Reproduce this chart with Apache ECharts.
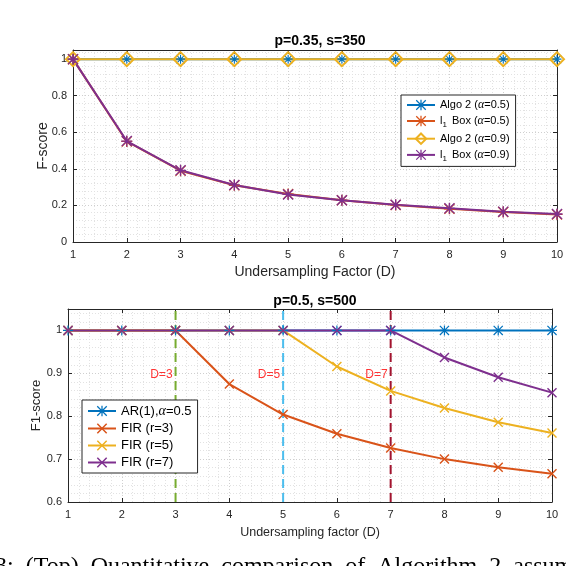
<!DOCTYPE html>
<html>
<head>
<meta charset="utf-8">
<script src="https://cdn.jsdelivr.net/npm/echarts@6/dist/echarts.min.js"></script>
<style>html,body{margin:0;padding:0;background:#fff}#c{width:566px;height:566px}</style>
</head>
<body>
<div id="c"></div>
<script>
// ---------- data ----------
var xD = [1, 2, 3, 4, 5, 6, 7, 8, 9, 10];
// top panel: p=0.35, s=350
var topTitle = 'p=0.35, s=350';
var topNames = ['Algo 2 (α=0.5)', 'l1 Box (α=0.5)', 'Algo 2 (α=0.9)', 'l1 Box (α=0.9)'];
var algo2a05 = [1, 1, 1, 1, 1, 1, 1, 1, 1, 1];
var l1Boxa05 = [1, 0.550, 0.390, 0.310, 0.262, 0.228, 0.203, 0.182, 0.164, 0.151];
var algo2a09 = [1, 1, 1, 1, 1, 1, 1, 1, 1, 1];
var l1Boxa09 = [1, 0.552, 0.392, 0.312, 0.260, 0.228, 0.204, 0.184, 0.166, 0.153];
// bottom panel: p=0.5, s=500
var botTitle = 'p=0.5, s=500';
var botNames = ['AR(1),α=0.5', 'FIR (r=3)', 'FIR (r=5)', 'FIR (r=7)'];
var ar1 = [1, 1, 1, 1, 1, 1, 1, 1, 1, 1];
var fir3 = [1, 1, 1, 0.875, 0.804, 0.759, 0.726, 0.700, 0.681, 0.666];
var fir5 = [1, 1, 1, 1, 1, 0.916, 0.859, 0.819, 0.786, 0.761];
var fir7 = [1, 1, 1, 1, 1, 1, 1, 0.937, 0.891, 0.855];
var thresholds = [3, 5, 7];
var thresholdLabels = ['D=3', 'D=5', 'D=7'];
var thresholdLabelLevel = 0.897;
var captionWords = ['3:', '(Top)', 'Quantitative', 'comparison', 'of', 'Algorithm', '2', 'assuming'];

// ---------- style ----------
var C = ['#0072BD', '#D95319', '#EDB120', '#7E2F8E'];
var thrColors = ['#77AC30', '#4DBEEE', '#A2142F'];
var FONT = '"Liberation Sans", Arial, Helvetica, sans-serif';
var AX = '#262626';
var ASTER = 'path://M0,8.8H20V11.2H0Z M8.8,0H11.2V20H8.8Z M1.7,0L20,18.3L18.3,20L0,1.7Z M18.3,0L20,1.7L1.7,20L0,18.3Z';
var XMARK = 'path://M2,0L20,18L18,20L0,2Z M18,0L20,2L2,20L0,18Z';

function pairs(ys) { return xD.map(function (x, i) { return [x, ys[i]]; }); }

function xAxisPair(gi, name, nameSize, nameGap) {
  return [
    {
      gridIndex: gi, type: 'value', min: 1, max: 10, interval: 1,
      name: name, nameLocation: 'middle', nameGap: nameGap, nameMoveOverlap: false,
      nameTextStyle: { fontFamily: FONT, fontSize: nameSize, color: AX, verticalAlign: 'top' },
      axisLine: { show: true, onZero: false, lineStyle: { color: AX, width: 1 } },
      axisTick: { show: true, inside: true, length: 4, lineStyle: { color: AX } },
      axisLabel: { fontFamily: FONT, fontSize: 11, color: AX, margin: 7 },
      splitLine: { show: true, lineStyle: { color: '#cfcfcf', type: [1, 2], width: 1 } },
      minorTick: { show: false, splitNumber: 5 },
      minorSplitLine: { show: true, lineStyle: { color: '#e2e2e2', type: [1, 2], width: 1 } }
    },
    {
      gridIndex: gi, type: 'value', min: 1, max: 10, interval: 1, position: 'top',
      axisLine: { show: true, onZero: false, lineStyle: { color: AX, width: 1 } },
      axisTick: { show: true, inside: true, length: 4, lineStyle: { color: AX } },
      axisLabel: { show: false }, splitLine: { show: false }
    }
  ];
}
function yAxisPair(gi, min, max, interval, name, nameSize, nameGap) {
  return [
    {
      gridIndex: gi, type: 'value', min: min, max: max, interval: interval,
      name: name, nameLocation: 'middle', nameGap: nameGap, nameRotate: 90, nameMoveOverlap: false,
      nameTextStyle: { fontFamily: FONT, fontSize: nameSize, color: AX },
      axisLine: { show: true, onZero: false, lineStyle: { color: AX, width: 1 } },
      axisTick: { show: true, inside: true, length: 4, lineStyle: { color: AX } },
      axisLabel: { fontFamily: FONT, fontSize: 11, color: AX, margin: 6, showMaxLabel: false },
      splitLine: { show: true, lineStyle: { color: '#cfcfcf', type: [1, 2], width: 1 } },
      minorTick: { show: false, splitNumber: 5 },
      minorSplitLine: { show: true, lineStyle: { color: '#e2e2e2', type: [1, 2], width: 1 } }
    },
    {
      gridIndex: gi, type: 'value', min: min, max: max, interval: interval, position: 'right',
      axisLine: { show: true, onZero: false, lineStyle: { color: AX, width: 1 } },
      axisTick: { show: true, inside: true, length: 4, lineStyle: { color: AX } },
      axisLabel: { show: false }, splitLine: { show: false }
    }
  ];
}

function lineSeries(name, data, color, xi, yi, symbol, size, hollow) {
  return {
    type: 'line', name: name, xAxisIndex: xi, yAxisIndex: yi,
    data: pairs(data), symbol: symbol, symbolSize: size, showAllSymbol: true,
    lineStyle: { color: color, width: 2 },
    itemStyle: hollow ? { color: '#ffffff00', borderColor: color, borderWidth: 2 } : { color: color, borderWidth: 0 },
    emphasis: { disabled: true }, animation: false, z: 3
  };
}

var series = [];
// top panel
series.push(lineSeries(topNames[0], algo2a05, C[0], 0, 0, ASTER, 9, false));
series.push(lineSeries(topNames[1], l1Boxa05, C[1], 0, 0, ASTER, 11, false));
series.push(lineSeries(topNames[2], algo2a09, C[2], 0, 0, 'diamond', 14, true));
series.push(lineSeries(topNames[3], l1Boxa09, C[3], 0, 0, ASTER, 11, false));
// bottom panel threshold lines & labels
thresholds.forEach(function (d, i) {
  series.push({
    type: 'line', xAxisIndex: 2, yAxisIndex: 2, symbol: 'none', silent: true,
    data: [[d, 0.6], [d, 1.05]],
    lineStyle: { color: thrColors[i], width: 2, type: [9, 5] }, z: 1, animation: false
  });
  series.push({
    type: 'scatter', xAxisIndex: 2, yAxisIndex: 2, symbolSize: 0, silent: true,
    data: [[d, thresholdLabelLevel]],
    label: { show: true, position: 'left', distance: 3, formatter: thresholdLabels[i],
      color: '#FF0000', fontFamily: FONT, fontSize: 12 }, z: 2, animation: false
  });
});
series.push(lineSeries(botNames[0], ar1, C[0], 2, 2, ASTER, 10, false));
series.push(lineSeries(botNames[1], fir3, C[1], 2, 2, XMARK, 10, false));
series.push(lineSeries(botNames[2], fir5, C[2], 2, 2, XMARK, 10, false));
series.push(lineSeries(botNames[3], fir7, C[3], 2, 2, XMARK, 10, false));

function legendFormatter(name) {
  var s = name.replace(/α/g, '}{i|α}{n|');
  if (s.indexOf('l1 ') === 0) s = 'l}{s|1}{n| ' + s.slice(3);
  return '{n|' + s + '}';
}
function legend(names, left, top, fs) {
  return {
    data: names, left: left, top: top, orient: 'vertical',
    backgroundColor: '#fff', borderColor: AX, borderWidth: 1,
    padding: [4, 6, 4, 5], itemGap: 4, itemWidth: 28, itemHeight: 13,
    selectedMode: false, formatter: legendFormatter,
    textStyle: {
      fontFamily: FONT, fontSize: fs, color: '#000',
      rich: {
        n: { fontFamily: FONT, fontSize: fs, color: '#000' },
        i: { fontFamily: '"Liberation Serif", serif', fontStyle: 'italic', fontSize: fs + 1, color: '#000' },
        s: { fontFamily: FONT, fontSize: fs - 3, color: '#000', padding: [7, 2, 0, 0] }
      }
    }
  };
}

var option = {
  animation: false,
  backgroundColor: '#fff',
  title: [
    { text: topTitle, left: 315, top: 29, textAlign: 'center',
      textStyle: { fontFamily: FONT, fontSize: 14, fontWeight: 'bold', color: '#000' } },
    { text: botTitle, left: 310, top: 289, textAlign: 'center',
      textStyle: { fontFamily: FONT, fontSize: 14, fontWeight: 'bold', color: '#000' } }
  ],
  grid: [
    { left: 73, top: 50, width: 484, height: 192, outerBoundsMode: 'none', containLabel: false },
    { left: 68, top: 309, width: 484, height: 193, outerBoundsMode: 'none', containLabel: false }
  ],
  xAxis: xAxisPair(0, 'Undersampling Factor (D)', 14, 23).concat(xAxisPair(1, 'Undersampling factor (D)', 12.5, 24)),
  yAxis: yAxisPair(0, 0, 1.05, 0.2, 'F-score', 14, 23).concat(yAxisPair(1, 0.6, 1.05, 0.1, 'F1-score', 13, 25)),
  legend: [legend(topNames, 401, 95, 11), legend(botNames, 82, 400, 13)],
  series: series,
  graphic: [
    { type: 'text', left: -5, top: 555, silent: true,
      style: { text: captionWords.join('  '), fontFamily: '"Liberation Serif", "Times New Roman", serif', fontSize: 24, fill: '#000' } }
  ]
};
var chart = echarts.init(document.getElementById('c'), null, { renderer: 'canvas' });
chart.setOption(option);
</script>
</body>
</html>
